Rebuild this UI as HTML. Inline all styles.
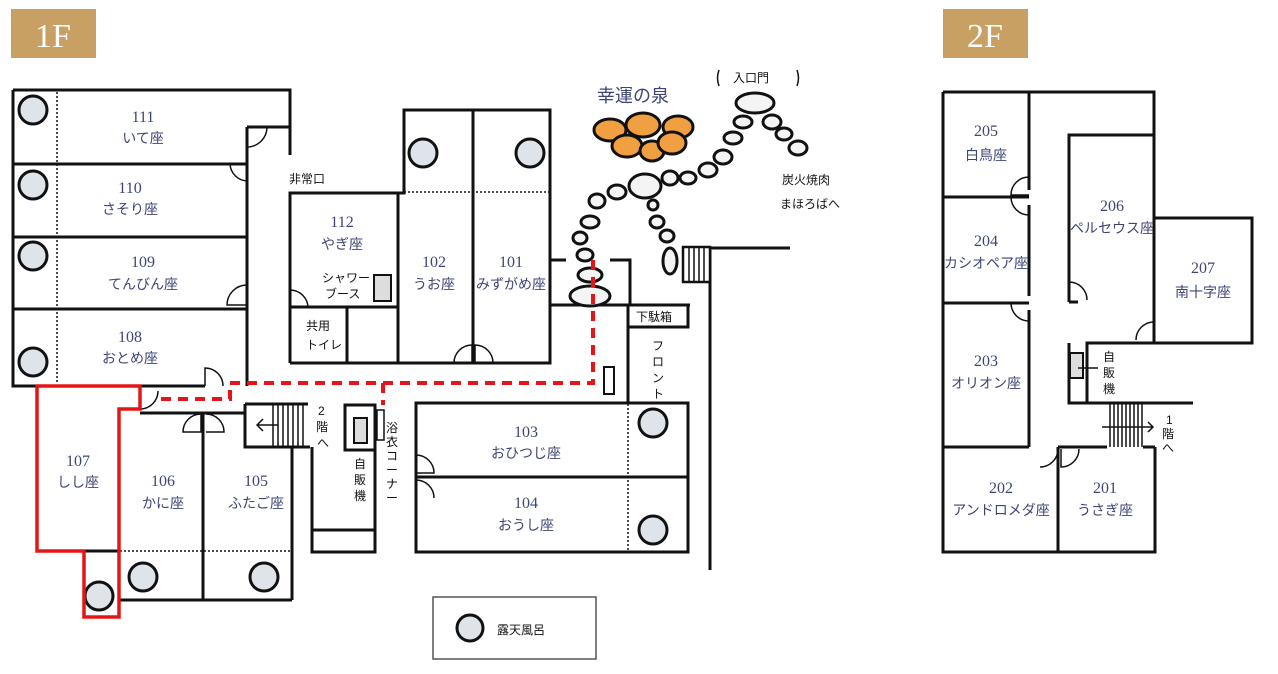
<!DOCTYPE html>
<html><head><meta charset="utf-8"><style>
html,body{margin:0;padding:0;background:#fff;}
svg{display:block;}
.w{stroke:#111;stroke-width:3;fill:none;}
.t{stroke:#111;stroke-width:1.5;fill:none;}
.d{stroke:#111;stroke-width:1.5;stroke-dasharray:2 2;fill:none;}
.c{fill:#dfe3ea;stroke:#111;stroke-width:3;}
.s{fill:#f4f4f4;stroke:#111;stroke-width:3;}
.o{fill:#f0a040;stroke:#111;stroke-width:3;}
.n{font-family:"Liberation Serif","Noto Serif CJK SC",serif;font-size:16px;fill:#3d4577;text-anchor:middle;}
.j{font-family:"Liberation Sans","Noto Sans CJK JP",sans-serif;font-size:14px;fill:#3d4577;text-anchor:middle;}
.k{font-family:"Liberation Sans","Noto Sans CJK JP",sans-serif;font-size:12px;fill:#111;}
.rd{stroke:#e51515;stroke-width:4;fill:none;stroke-dasharray:10 7;}
</style></head><body>
<svg width="1278" height="674" viewBox="0 0 1278 674" xmlns="http://www.w3.org/2000/svg">
<!-- labels -->
<rect x="11" y="9" width="85" height="49" fill="#c9a064"/>
<text x="53" y="47" font-family="Liberation Serif,serif" font-size="34" fill="#fff" text-anchor="middle">1F</text>
<rect x="943" y="9" width="85" height="49" fill="#c9a064"/>
<text x="985" y="47" font-family="Liberation Serif,serif" font-size="34" fill="#fff" text-anchor="middle">2F</text>

<!-- 1F left block -->
<path class="w" d="M13 90 H290 V155 M247 127 H290 M13 90 V386 H205 M247 127 V386 M13 164 H247 M13 237 H247 M13 309 H247"/>
<line class="d" x1="57" y1="92" x2="57" y2="384"/>
<circle class="c" cx="33" cy="110" r="14"/><circle class="c" cx="33" cy="185" r="14"/>
<circle class="c" cx="33" cy="256" r="14"/><circle class="c" cx="33" cy="362" r="14"/>
<path class="t" d="M247 127 v20 a20 20 0 0 0 20 -20 M247 285 a20 20 0 0 0 -20 20 h20 M247 170 v0 M230 164 a18 18 0 0 0 17 17 M205 386 v-18 a18 18 0 0 1 18 18 M140 409 a18 18 0 0 0 18 -18"/>
<!-- 106/105 -->
<path class="w" d="M119 409 V600 H292 M140 413 H245 M203 413 V600 M292 447 V600 M119 551 H84 M84 617 H119"/>
<line class="d" x1="84" y1="551" x2="292" y2="551"/>
<path class="t" d="M183 432 a18 18 0 0 1 18 -18 v18 z M206 414 a18 18 0 0 1 18 18 h-18"/>
<circle class="c" cx="99" cy="596" r="14"/><circle class="c" cx="143" cy="577" r="14"/><circle class="c" cx="264" cy="577" r="14"/>
<!-- stairs -->
<path class="w" d="M245 404 H308 M245 404 V447 H310"/>
<g class="t"><line x1="273" y1="404" x2="273" y2="447"/><line x1="278" y1="404" x2="278" y2="447"/><line x1="283" y1="404" x2="283" y2="447"/><line x1="288" y1="404" x2="288" y2="447"/><line x1="293" y1="404" x2="293" y2="447"/><line x1="298" y1="404" x2="298" y2="447"/><line x1="303" y1="404" x2="303" y2="447"/><path d="M258 425 H278 M263 419 l-6 6 6 6"/></g>
<text class="k" x="318" y="415">2</text><text class="k" x="316" y="431">階</text><text class="k" x="317" y="447">へ</text>
<!-- 107 red -->
<polygon points="37,386 140,386 140,409 119,409 119,617 84,617 84,551 37,551" fill="none" stroke="#e51515" stroke-width="3.5"/>
<!-- vending corridor -->
<path class="w" d="M312 447 V552 H375 V405 M312 530 H375 M345 405 H375 V450 H345 Z"/>
<rect x="354" y="418" width="13" height="25" fill="#ddd" stroke="#111" stroke-width="2"/>
<rect x="377" y="410" width="7" height="30" fill="#fff" stroke="#111" stroke-width="1.5"/>
<text class="k" x="354" y="468">自</text><text class="k" x="354" y="484">販</text><text class="k" x="354" y="500">機</text>
<text class="k" x="386" y="432" font-size="11">浴</text><text class="k" x="386" y="446" font-size="11">衣</text><text class="k" x="386" y="460" font-size="11">コ</text><text class="k" x="386" y="474" font-size="11">ー</text><text class="k" x="386" y="488" font-size="11">ナ</text><text class="k" x="386" y="502" font-size="11">ー</text>
<!-- 112 etc -->
<text class="k" x="289" y="183" font-size="13">非常口</text>
<path class="w" d="M290 363 V193 H404 V110 H550 V363 H290 M398 193 V363 M473 110 V363 M290 307 H398 M347 307 V363"/>
<line class="d" x1="404" y1="192" x2="550" y2="192"/>
<circle class="c" cx="423" cy="153" r="14"/><circle class="c" cx="530" cy="153" r="14"/>
<rect x="374" y="275" width="17" height="26" fill="#ddd" stroke="#111" stroke-width="2"/>
<path class="t" d="M290 290 a18 18 0 0 1 18 18 M472 363 v-18 a18 18 0 0 0 -18 18 M475 363 v-18 a18 18 0 0 1 18 18"/>
<text class="k" x="322" y="282" font-size="11">シャワー</text><text class="k" x="325" y="298" font-size="11">ブース</text>
<text class="k" x="306" y="330" font-size="13">共用</text><text class="k" x="306" y="349" font-size="12">トイレ</text>
<!-- right side -->
<path class="w" d="M550 260 H566 M610 260 H630 V305 M550 305 H690 M628 305 V402 M628 327 H688 V305 M416 403 H688 V552 H416 Z M416 477 H688 M710 250 V570 M710 248 H790"/>
<line class="d" x1="628" y1="404" x2="628" y2="550"/>
<circle class="c" cx="653" cy="423" r="14"/><circle class="c" cx="653" cy="530" r="14"/>
<path class="t" d="M416 455 a18 18 0 0 1 18 18 h-18 M416 480 a18 18 0 0 1 18 18"/>
<rect x="604" y="367" width="10" height="27" fill="#fff" stroke="#111" stroke-width="2"/>
<text class="k" x="636" y="321" font-size="13">下駄箱</text>
<text class="k" x="652" y="350">フ</text><text class="k" x="652" y="366">ロ</text><text class="k" x="652" y="382">ン</text><text class="k" x="652" y="398">ト</text>
<rect x="683" y="247" width="27" height="35" fill="#fff" stroke="#111" stroke-width="2.5"/>
<g class="t"><line x1="689" y1="248" x2="689" y2="282"/><line x1="694" y1="248" x2="694" y2="282"/><line x1="699" y1="248" x2="699" y2="282"/><line x1="704" y1="248" x2="704" y2="282"/></g>
<!-- stones -->
<g>
<ellipse class="s" cx="755" cy="103" rx="19" ry="10"/>
<ellipse class="s" cx="743" cy="122" rx="9" ry="6"/><ellipse class="s" cx="733" cy="138" rx="9" ry="6"/>
<ellipse class="s" cx="723" cy="157" rx="9" ry="7"/><ellipse class="s" cx="708" cy="170" rx="9" ry="7"/>
<ellipse class="s" cx="688" cy="178" rx="8" ry="6"/><ellipse class="s" cx="670" cy="178" rx="8" ry="7"/>
<ellipse class="s" cx="645" cy="186" rx="16" ry="12"/><ellipse class="s" cx="617" cy="192" rx="9" ry="7"/>
<ellipse class="s" cx="597" cy="201" rx="8" ry="7"/><ellipse class="s" cx="590" cy="222" rx="9" ry="6"/>
<ellipse class="s" cx="580" cy="238" rx="7" ry="6"/><ellipse class="s" cx="585" cy="255" rx="8" ry="6"/>
<ellipse class="s" cx="590" cy="275" rx="12" ry="7"/><ellipse class="s" cx="590" cy="296" rx="20" ry="10"/>
<ellipse class="s" cx="653" cy="205" rx="5" ry="5"/><ellipse class="s" cx="657" cy="222" rx="7" ry="6"/>
<ellipse class="s" cx="667" cy="236" rx="7" ry="6"/><ellipse class="s" cx="670" cy="261" rx="7" ry="13"/>
<ellipse class="s" cx="772" cy="122" rx="9" ry="7"/><ellipse class="s" cx="784" cy="134" rx="8" ry="6"/>
<ellipse class="s" cx="798" cy="148" rx="9" ry="7"/>
</g>
<g>
<ellipse class="o" cx="610" cy="130" rx="16" ry="11"/><ellipse class="o" cx="643" cy="125" rx="17" ry="12"/>
<ellipse class="o" cx="678" cy="127" rx="15" ry="11"/><ellipse class="o" cx="627" cy="146" rx="15" ry="11"/>
<ellipse class="o" cx="652" cy="151" rx="12" ry="10"/><ellipse class="o" cx="672" cy="143" rx="14" ry="11"/>
</g>
<text x="633" y="102" font-family="Liberation Sans,Noto Sans CJK JP,sans-serif" font-size="18" fill="#3d4577" text-anchor="middle">幸運の泉</text>
<text class="k" x="733" y="82" font-size="14">入口門</text>
<path class="t" d="M719 70 q-3 8 0 16 M797 70 q3 8 0 16"/>
<text class="k" x="782" y="184" font-size="14">炭火焼肉</text>
<text class="k" x="780" y="208" font-size="14">まほろばへ</text>
<!-- red dashed route -->
<path class="rd" d="M593 260 V383 H230 V399 H160 M383 383 V405"/>
<!-- room labels 1F -->
<text class="n" x="143" y="122">111</text><text class="j" x="143" y="143">いて座</text>
<text class="n" x="130" y="193">110</text><text class="j" x="130" y="214">さそり座</text>
<text class="n" x="143" y="267">109</text><text class="j" x="143" y="289">てんびん座</text>
<text class="n" x="130" y="342">108</text><text class="j" x="130" y="363">おとめ座</text>
<text class="n" x="78" y="466">107</text><text class="j" x="78" y="487">しし座</text>
<text class="n" x="163" y="486">106</text><text class="j" x="163" y="508">かに座</text>
<text class="n" x="256" y="486">105</text><text class="j" x="256" y="508">ふたご座</text>
<text class="n" x="342" y="227">112</text><text class="j" x="342" y="249">やぎ座</text>
<text class="n" x="434" y="267">102</text><text class="j" x="434" y="289">うお座</text>
<text class="n" x="511" y="267">101</text><text class="j" x="511" y="289">みずがめ座</text>
<text class="n" x="526" y="437">103</text><text class="j" x="526" y="458">おひつじ座</text>
<text class="n" x="526" y="508">104</text><text class="j" x="526" y="530">おうし座</text>
<!-- legend -->
<rect x="433" y="597" width="163" height="62" fill="#fff" stroke="#555" stroke-width="1.5"/>
<circle class="c" cx="470" cy="628" r="13"/>
<text class="k" x="497" y="634" font-size="15">露天風呂</text>

<!-- 2F -->
<path class="w" d="M943 92 H1154 V218 M943 92 V552 H1155 V447 M943 197 H1029 M943 303 H1029 M943 447 H1029 M1029 92 V190 M1029 205 V296 M1029 310 V447 M1058 447 V552 M1058 447 H1107 M1143 447 H1155 M1069 302 V135 H1154 M1069 302 H1078 M1154 218 H1252 V343 H1154 V218 M1154 343 H1087 V403 H1069 V343 M1069 403 H1193"/>
<path class="t" d="M1029 177 a18 18 0 0 0 -18 18 h18 M1029 197 h-18 a18 18 0 0 0 18 18 M1029 303 h-18 a18 18 0 0 0 18 18 M1069 282 a18 18 0 0 1 18 18 M1154 322 a18 18 0 0 0 -18 18 M1058 449 a18 18 0 0 1 -18 18 M1061 449 v18 a18 18 0 0 0 18 -18"/>
<rect x="1070" y="353" width="13" height="25" fill="#ddd" stroke="#111" stroke-width="2"/>
<line class="t" x1="1078" y1="368" x2="1098" y2="368"/>
<text class="k" x="1103" y="361">自</text><text class="k" x="1103" y="377">販</text><text class="k" x="1103" y="393">機</text>
<g class="t"><line x1="1110" y1="404" x2="1110" y2="447"/><line x1="1114" y1="404" x2="1114" y2="447"/><line x1="1118" y1="404" x2="1118" y2="447"/><line x1="1122" y1="404" x2="1122" y2="447"/><line x1="1126" y1="404" x2="1126" y2="447"/><line x1="1130" y1="404" x2="1130" y2="447"/><line x1="1134" y1="404" x2="1134" y2="447"/><line x1="1138" y1="404" x2="1138" y2="447"/><line x1="1142" y1="404" x2="1142" y2="447"/><path d="M1102 427 H1152 M1148 422 l5 5 -5 5"/></g>
<text class="k" x="1166" y="424" font-size="11">1</text><text class="k" x="1162" y="438" font-size="11">階</text><text class="k" x="1162" y="452" font-size="11">へ</text>
<text class="n" x="986" y="136">205</text><text class="j" x="986" y="160">白鳥座</text>
<text class="n" x="986" y="246">204</text><text class="j" x="986" y="268" font-size="12">カシオペア座</text>
<text class="n" x="1112" y="211">206</text><text class="j" x="1112" y="233" font-size="12">ペルセウス座</text>
<text class="n" x="1203" y="273">207</text><text class="j" x="1203" y="297">南十字座</text>
<text class="n" x="986" y="366">203</text><text class="j" x="986" y="388">オリオン座</text>
<text class="n" x="1001" y="493">202</text><text class="j" x="1001" y="515" font-size="12">アンドロメダ座</text>
<text class="n" x="1105" y="493">201</text><text class="j" x="1105" y="515">うさぎ座</text>
</svg>
</body></html>
